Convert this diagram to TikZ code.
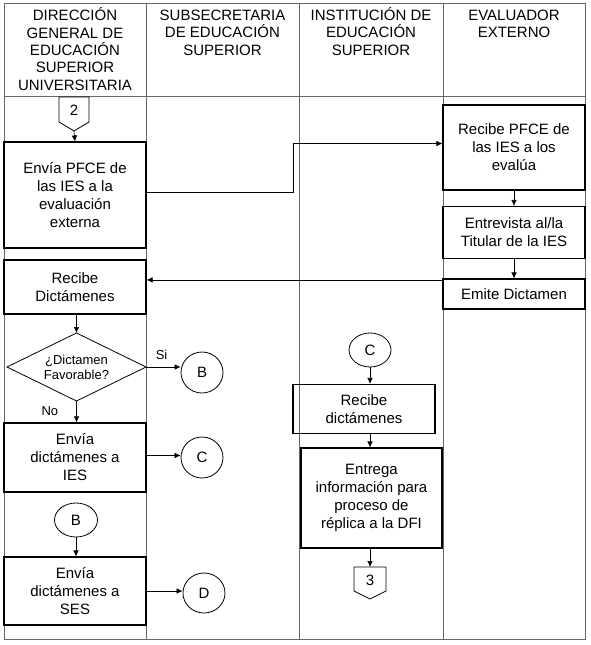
\documentclass[tikz,border=0pt]{standalone}
\usepackage{fontspec}
\setmainfont{Liberation Sans}
\usetikzlibrary{arrows.meta,shapes.geometric}
\newcommand\boxfont{\fontsize{15}{18}\selectfont}
\newcommand\headfont{\fontsize{15}{17.4}\selectfont}
\newcommand\smallfont{\fontsize{13}{15.6}\selectfont}
\begin{document}
\begin{tikzpicture}[x=1pt,y=-1pt,
  grid/.style={draw=black!60, line width=0.8pt},
  box/.style={draw=black, line width=1.1pt, align=center, font=\boxfont, inner sep=0pt},
  conn/.style={draw=black, line width=0.6pt, -{Latex[length=6pt,width=5.5pt]}},
  conncirc/.style={draw=black, line width=0.8pt, ellipse, inner sep=0pt, font=\boxfont},
  head/.style={align=center, font=\headfont, inner sep=0pt},
  offpage/.style={draw=black, line width=0.8pt, fill=white},
  decshape/.style={draw=black, line width=0.8pt},
  lbl/.style={font=\smallfont, inner sep=0pt}
]
\useasboundingbox (0,0) rectangle (590,645);
\fill[white] (0,0) rectangle (590,645);

% table
\draw[grid] (4,3) rectangle (585,639);
\draw[grid] (4,96) -- (585,96);
\draw[grid] (146,3) -- (146,639);
\draw[grid] (299,3) -- (299,639);
\draw[grid] (443,3) -- (443,639);

% headers
\node[head] (h1) at (75,49) {DIRECCIÓN\\GENERAL DE\\EDUCACIÓN\\SUPERIOR\\UNIVERSITARIA};
\node[head] (h2) at (222.5,32.5) {SUBSECRETARIA\\DE EDUCACIÓN\\SUPERIOR};
\node[head] (h3) at (371,31.5) {INSTITUCIÓN DE\\EDUCACIÓN\\SUPERIOR};
\node[head] (h4) at (514,24) {EVALUADOR\\EXTERNO};

% off-page connector 2
\draw[offpage] (59,97) -- (89,97) -- (89,122) -- (74,131) -- (59,122) -- cycle;
\node[font=\boxfont, inner sep=0pt] (p2) at (74,110) {2};
\coordinate (p2tip) at (74,131);

% column 1 boxes
\node[box, minimum width=142, minimum height=106] (envia) at (75,195) {Envía PFCE de\\las IES a la\\evaluación\\externa};
\node[box, minimum width=142, minimum height=54] (recdict) at (75,287) {Recibe\\Dictámenes};
% decision
\coordinate (dectop) at (76.5,333);
\coordinate (decright) at (146,367);
\coordinate (decbot) at (76.5,401);
\coordinate (decleft) at (7,367);
\draw[decshape] (dectop) -- (decright) -- (decbot) -- (decleft) -- cycle;
\node[align=center, font=\smallfont, inner sep=0pt] (dec) at (76.5,367.5) {¿Dictamen\\Favorable?};
\node[box, minimum width=142, minimum height=69] (envies) at (75,457.5) {Envía\\dictámenes a\\IES};
\node[conncirc, minimum width=43, minimum height=34] (bL) at (76,520) {B};
\node[box, minimum width=142, minimum height=68] (enviases) at (75,591) {Envía\\dictámenes a\\SES};

% column 2 circles
\node[conncirc, minimum width=42, minimum height=41] (bR) at (202,372.5) {B};
\node[conncirc, minimum width=42, minimum height=41] (cR) at (202,457.5) {C};
\node[conncirc, minimum width=42, minimum height=40] (dR) at (204,593) {D};

% column 3
\node[conncirc, minimum width=42, minimum height=34] (c2) at (370,350) {C};
\node[box, minimum width=142, minimum height=49] (recd) at (364,409) {Recibe\\dictámenes};
\node[box, minimum width=141, minimum height=100] (entrega) at (371.5,498) {Entrega\\información para\\proceso de\\réplica a la DFI};
\draw[offpage] (354,567) -- (386,567) -- (386,591) -- (370,599) -- (354,591) -- cycle;
\node[font=\boxfont, inner sep=0pt] (p3) at (370,580) {3};
\coordinate (p3top) at (370,567);

% column 4
\node[box, minimum width=142, minimum height=85] (recpfce) at (514,147.5) {Recibe PFCE de\\las IES a los\\evalúa};
\node[box, minimum width=142, minimum height=52] (entrev) at (514,232.5) {Entrevista al/la\\Titular de la IES};
\node[box, minimum width=142, minimum height=30] (emite) at (514,294) {Emite Dictamen};

% connectors
\draw[conn] (p2tip) -- (envia.north);
\draw[conn] ([yshift=3pt]envia.east) -- ++(147,0) |- ([yshift=4pt]recpfce.west);
\draw[conn] (recpfce.south) -- (entrev.north);
\draw[conn] (entrev.south) -- (emite.north);
\draw[conn] ([yshift=-1.5pt]emite.north west) -- ([yshift=-1.5pt]emite.north west -| recdict.east);
\draw[conn] (recdict.south -| dectop) -- (dectop);
\draw[conn] (decright) -- (decright -| bR.west) node[lbl, pos=0.45, above=7pt] (si) {Si};
\draw[conn] (decbot) -- (decbot |- envies.north) node[lbl, pos=0.45, left=18pt] (no) {No};
\draw[conn] ([yshift=2pt]envies.east) -- ([yshift=2pt]envies.east -| cR.west);
\draw[conn] (bL.south) -- (bL.south |- enviases.north);
\draw[conn] (enviases.east) -- (enviases.east -| dR.west);
\draw[conn] (c2.south) -- (c2.south |- recd.north);
\draw[conn] (c2.south |- recd.south) -- (c2.south |- entrega.north);
\draw[conn] (entrega.south -| p3top) -- (p3top);
\end{tikzpicture}
\end{document}
